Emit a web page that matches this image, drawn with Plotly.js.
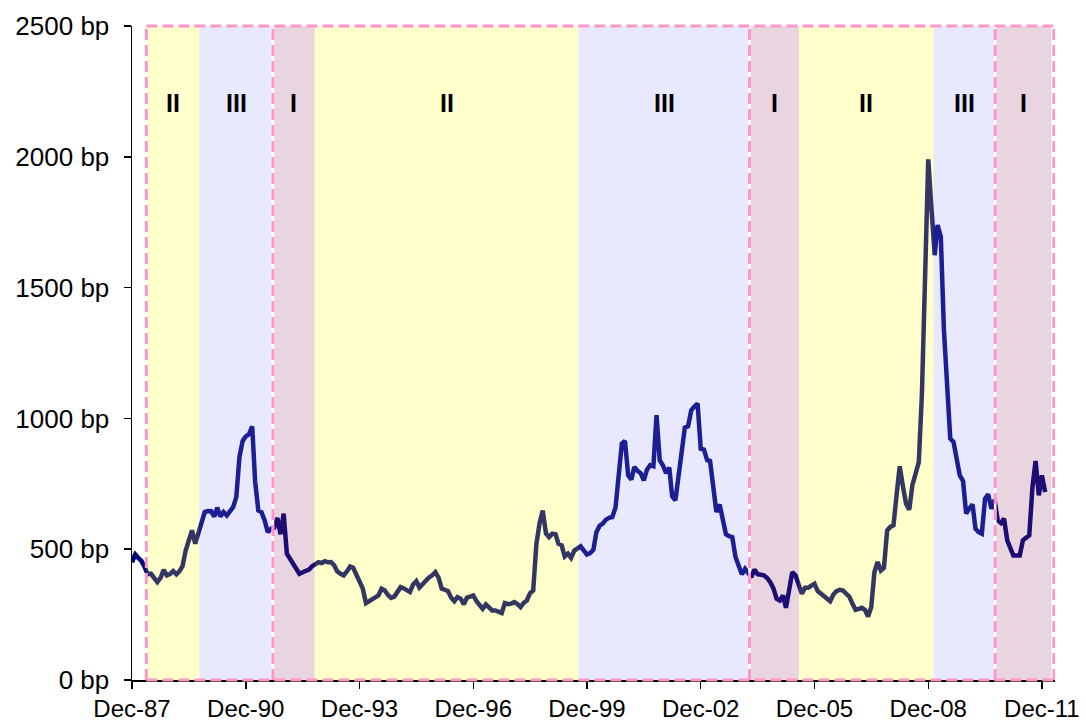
<!DOCTYPE html>
<html>
<head>
<meta charset="utf-8">
<script src="https://cdn.plot.ly/plotly-3.0.1.min.js"></script>
<style>html,body{margin:0;padding:0;background:#fff;}#chart{width:1086px;height:723px;}</style>
</head>
<body>
<div id="chart"></div>
<script>
// Monthly spread series (bp), first value = Dec-1987
const startYear = 1987, startMonth = 12;
const spreadBp = [
  450, 480, 466, 455, 431, 404, 406, 390, 374, 390,
  421, 400, 405, 416, 404, 415, 435, 495, 540, 572,
  521, 560, 598, 642, 646, 645, 625, 659, 625, 642,
  629, 645, 661, 699, 852, 914, 931, 939, 970, 760,
  648, 642, 610, 565, 578, 582, 620, 557, 636, 483,
  464, 440, 422, 406, 412, 416, 422, 435, 442, 450,
  447, 454, 450, 451, 438, 415, 406, 400, 415, 434,
  429, 400, 375, 350, 294, 300, 311, 318, 323, 349,
  342, 325, 314, 319, 335, 355, 350, 345, 336, 365,
  378, 353, 368, 383, 392, 400, 412, 391, 349, 345,
  340, 315, 301, 317, 311, 289, 315, 319, 323, 301,
  285, 272, 289, 275, 266, 266, 262, 256, 294, 290,
  292, 298, 290, 279, 295, 304, 332, 342, 521, 600,
  648, 560, 546, 559, 557, 521, 515, 472, 483, 467,
  495, 505, 511, 495, 480, 485, 498, 565, 590, 598,
  613, 620, 623, 659, 763, 904, 914, 782, 766, 814,
  800, 791, 763, 804, 821, 817, 1012, 840, 821, 791,
  812, 702, 687, 770, 871, 965, 970, 1031, 1045, 1057,
  884, 881, 840, 837, 738, 642, 671, 604, 557, 550,
  546, 470, 431, 404, 425, 410, 393, 422, 404, 402,
  400, 390, 374, 349, 311, 304, 323, 276, 355, 412,
  400, 368, 330, 353, 353, 361, 368, 340, 330, 319,
  310, 301, 327, 340, 345, 342, 330, 319, 292, 268,
  272, 276, 268, 243, 279, 412, 451, 419, 429, 572,
  585, 591, 712, 817, 740, 674, 651, 745, 789, 833,
  1095, 1643, 1990, 1800, 1624, 1739, 1694, 1337, 1108, 923,
  910, 850, 782, 761, 636, 655, 671, 578, 565, 559,
  693, 710, 655, 689, 610, 600, 617, 534, 500, 476,
  476, 476, 534, 545, 553, 738, 837, 706, 782, 718
];

// Credit-cycle phases
const phaseLabels = ['II', 'III', 'I', 'II', 'III', 'I', 'II', 'III', 'I'];
const phaseStarts = ['1988-04-17', '1989-09-09', '1991-08-20', '1992-09-24', '1999-09-11',
                     '2004-03-15', '2005-07-04', '2009-01-21', '2010-09-07'];
const phaseEnds   = ['1989-09-09', '1991-08-20', '1992-09-24', '1999-09-11', '2004-03-15',
                     '2005-07-04', '2009-01-21', '2010-09-07', '2012-02-29'];
// Full cycle boundaries (dashed boxes)
const cycleBounds = ['1988-04-17', '1991-08-20', '2004-03-15', '2010-09-07', '2012-03-25'];

const phaseFill = {'I': '#912D5F', 'II': '#FFFF00', 'III': '#8C8CFF'};
const FONT = 'Liberation Sans, Arial, sans-serif';

function monthDate(i) {
  const m0 = (startMonth - 1) + i;
  const y = startYear + Math.floor(m0 / 12);
  const m = (m0 % 12) + 1;
  return y + '-' + String(m).padStart(2, '0') + '-01';
}
const dates = spreadBp.map((_, i) => monthDate(i));

const shapes = [];
const annotations = [];
phaseLabels.forEach((lab, i) => {
  shapes.push({
    type: 'rect', layer: 'above', xref: 'x', yref: 'paper',
    x0: phaseStarts[i], x1: phaseEnds[i], y0: 0, y1: 1,
    fillcolor: phaseFill[lab], opacity: 0.2, line: {width: 0}
  });
  const mid = (Date.parse(phaseStarts[i]) + Date.parse(phaseEnds[i])) / 2;
  annotations.push({
    x: mid, y: 0.882, xref: 'x', yref: 'paper', text: lab, showarrow: false,
    xanchor: 'center', yanchor: 'middle',
    font: {family: FONT, size: 25, color: '#000', weight: 'bold'}
  });
});
// white gaps under internal dashed verticals
cycleBounds.slice(1, -1).forEach(d => {
  shapes.push({type: 'line', layer: 'above', xref: 'x', yref: 'paper', x0: d, x1: d, y0: 0, y1: 1,
    line: {color: '#ffffff', width: 2.5}});
});
const dashStyle = {color: '#FF96C8', width: 3, dash: '11px,5px'};
cycleBounds.forEach(d => {
  shapes.push({type: 'line', layer: 'above', xref: 'x', yref: 'paper', x0: d, x1: d, y0: 0, y1: 1,
    line: dashStyle});
});
['top', 'bottom'].forEach((_, k) => {
  shapes.push({type: 'line', layer: 'above', xref: 'x', yref: 'paper',
    x0: cycleBounds[0], x1: cycleBounds[cycleBounds.length - 1], y0: k === 0 ? 1 : 0, y1: k === 0 ? 1 : 0,
    line: dashStyle});
});

const trace = {
  x: dates, y: spreadBp, type: 'scatter', mode: 'lines',
  line: {color: 'rgb(0,4,121)', width: 4.5}, hoverinfo: 'x+y'
};

const layout = {
  width: 1086, height: 723,
  margin: {l: 132, r: 31, t: 26, b: 43},
  paper_bgcolor: '#ffffff', plot_bgcolor: '#ffffff',
  showlegend: false,
  font: {family: FONT, size: 25, color: '#000'},
  xaxis: {
    type: 'date', range: ['1987-12-01', '2012-04-05'],
    tick0: '1987-12-01', dtick: 'M36', tickformat: '%b-%y',
    ticks: 'outside', ticklen: 7, tickwidth: 1.5, tickcolor: '#000',
    showline: true, linecolor: '#000', linewidth: 1.5,
    showgrid: false, zeroline: false,
    ticklabelstandoff: 0,
    tickfont: {family: FONT, size: 24, color: '#000'}
  },
  yaxis: {
    range: [0, 2500], tick0: 0, dtick: 500, ticksuffix: ' bp',
    ticks: 'outside', ticklen: 7, tickwidth: 1.5, tickcolor: '#000',
    showline: true, linecolor: '#000', linewidth: 1.5,
    showgrid: false, zeroline: false,
    ticklabelstandoff: 9,
    tickfont: {family: FONT, size: 26, color: '#000'}
  },
  shapes: shapes,
  annotations: annotations
};

Plotly.newPlot('chart', [trace], layout, {staticPlot: true, displayModeBar: false});
</script>
</body>
</html>
